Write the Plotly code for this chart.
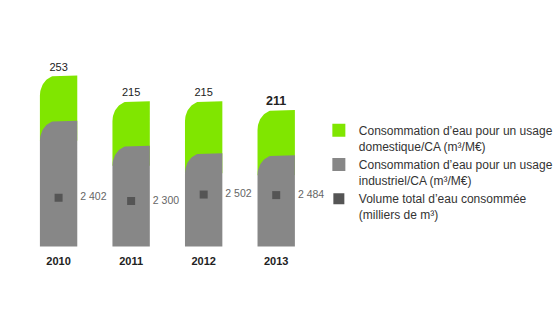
import numpy as np
import plotly.graph_objects as go

# ---- data ----
years = ["2010", "2011", "2012", "2013"]
industrial = [186, 149, 138, 135]      # gray part (m3/M€)
domestic = [67, 66, 77, 67]            # green part (m3/M€)
total_labels = ["253", "215", "215", "211"]
volume = [2402, 2300, 2502, 2484]      # milliers de m3
volume_labels = ["2 402", "2 300", "2 502", "2 484"]

# ---- geometry / style ----
W, H = 558, 324
PX_PER_CAT = 72.8
X0_PX = 58.8
BASE_PX = 246.5
UNITS_PER_PX = 1.48
BAR_W = 37.5 / PX_PER_CAT
RX = 17 / PX_PER_CAT
RY = 20 * UNITS_PER_PX

GREEN = "#80E600"
GRAY = "#878787"
DARK = "#555555"
FONT = "Arial, Liberation Sans, sans-serif"

xrange = [-X0_PX / PX_PER_CAT, (W - X0_PX) / PX_PER_CAT]
yrange = [-(H - BASE_PX) * UNITS_PER_PX, BASE_PX * UNITS_PER_PX]
K = 31.25
y2range = [2300 - (H - 201) * K, 2300 + 201 * K]

xs_cat = list(range(len(years)))


def bar_path(xc, bottom, top):
    xl, xr = xc - BAR_W / 2, xc + BAR_W / 2
    t = np.linspace(0, np.pi / 2, 24)
    ax = xl + RX - RX * np.sin(t)
    ay = top - RY + RY * np.cos(t)
    xs = [xl, xr, xr] + list(ax) + [xl, None]
    ys = [bottom, bottom, top] + list(ay) + [bottom, None]
    return xs, ys


def series_paths(bottoms, tops):
    X, Y = [], []
    for i, (b, t) in enumerate(zip(bottoms, tops)):
        a, c = bar_path(xs_cat[i], b, t)
        X += a
        Y += c
    return X, Y


totals = [a + b for a, b in zip(industrial, domestic)]

fig = go.Figure()

# green (domestic) part: starts just below the gray top so it fills the gray's rounded corner
gx, gy = series_paths([v - RY for v in industrial], totals)
fig.add_trace(go.Scatter(x=gx, y=gy, fill="toself", fillcolor=GREEN, mode="lines",
                         line=dict(width=0, color=GREEN), showlegend=False, hoverinfo="skip"))
ix, iy = series_paths([0] * len(industrial), industrial)
fig.add_trace(go.Scatter(x=ix, y=iy, fill="toself", fillcolor=GRAY, mode="lines",
                         line=dict(width=0, color=GRAY), showlegend=False, hoverinfo="skip"))

# volume markers
fig.add_trace(go.Scatter(x=xs_cat, y=volume, yaxis="y2", mode="markers",
                         marker=dict(symbol="square", size=8, color=DARK),
                         showlegend=False, hoverinfo="skip"))
fig.add_trace(go.Scatter(x=[x + BAR_W / 2 + 3 / PX_PER_CAT for x in xs_cat], y=volume, yaxis="y2",
                         mode="text", text=volume_labels, textposition="middle right",
                         textfont=dict(family=FONT, size=10.5, color="#666666"),
                         showlegend=False, hoverinfo="skip"))

# total labels
fig.add_trace(go.Scatter(x=xs_cat, y=[t + 2 * UNITS_PER_PX for t in totals], mode="text",
                         text=total_labels, textposition="top center",
                         textfont=dict(family=FONT, size=[11, 11, 11, 12.5],
                                       color="#222222",
                                       weight=["normal", "normal", "normal", "bold"]),
                         showlegend=False, hoverinfo="skip"))

# year labels
fig.add_trace(go.Scatter(x=xs_cat, y=[-(262 - BASE_PX) * UNITS_PER_PX] * 4, mode="text",
                         text=["<b>%s</b>" % y for y in years], textposition="middle center",
                         textfont=dict(family=FONT, size=11, color="#222222"),
                         showlegend=False, hoverinfo="skip"))

# legend entries
leg = [
    ("Consommation d’eau pour un usage<br>domestique/CA (m³/M€)", GREEN, 13),
    ("Consommation d’eau pour un usage<br>industriel/CA (m³/M€)", GRAY, 13),
    ("Volume total d’eau consommée<br>(milliers de m³)", DARK, 11),
]
for name, col, sz in leg:
    fig.add_trace(go.Scatter(x=[None], y=[None], mode="markers", name=name,
                             marker=dict(symbol="square", size=sz, color=col)))

fig.update_layout(
    width=W, height=H,
    margin=dict(l=0, r=0, t=0, b=0),
    paper_bgcolor="white", plot_bgcolor="white",
    font=dict(family=FONT, size=12, color="#333333"),
    xaxis=dict(range=xrange, visible=False, fixedrange=True),
    yaxis=dict(range=yrange, visible=False, fixedrange=True),
    yaxis2=dict(range=y2range, visible=False, overlaying="y", fixedrange=True),
    legend=dict(x=320 / W, y=1 - 116 / H, xanchor="left", yanchor="top",
                valign="top", tracegroupgap=0, itemclick=False,
                font=dict(family=FONT, size=12, color="#333333"),
                bgcolor="rgba(0,0,0,0)"),
    showlegend=True,
)

fig.write_html("out.html")
